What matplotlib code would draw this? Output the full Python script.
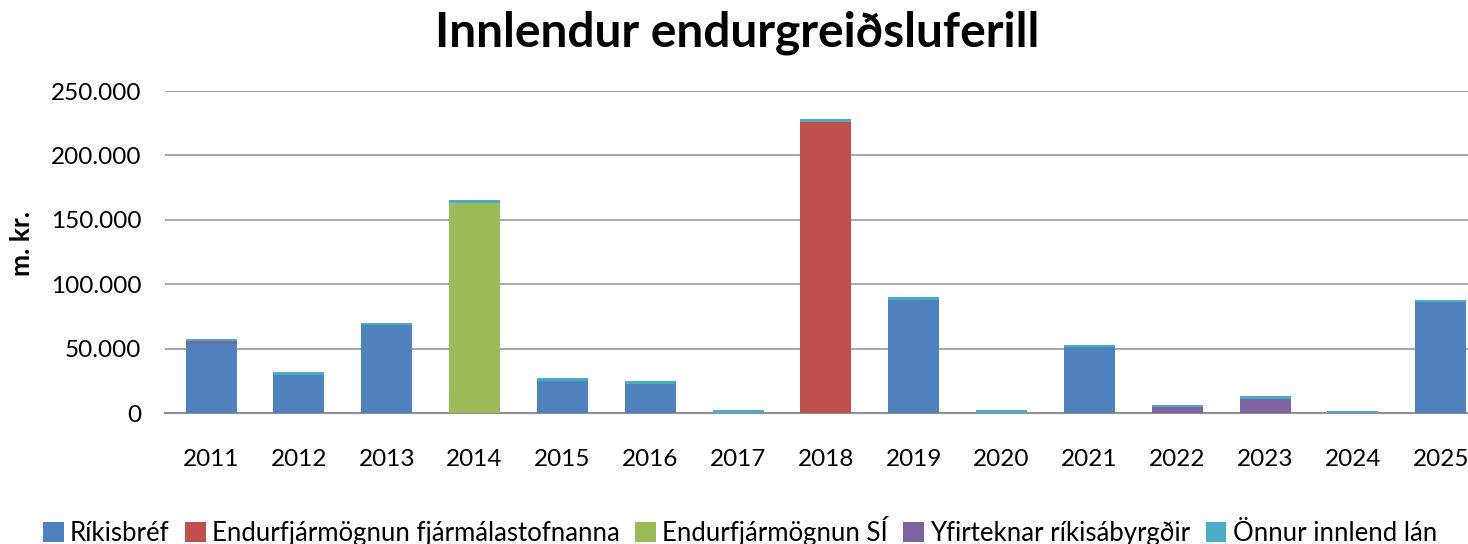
import numpy as np
import matplotlib
matplotlib.use("Agg")
import matplotlib.pyplot as plt
from matplotlib.ticker import FuncFormatter

plt.rcParams['font.family'] = ['Lato', 'DejaVu Sans']

years = ['2011', '2012', '2013', '2014', '2015', '2016', '2017', '2018',
         '2019', '2020', '2021', '2022', '2023', '2024', '2025']

# values in millions ISK (m. kr.)
rikisbref = [53300, 29300, 68000, 0, 24800, 22500, 0, 0,
             87700, 0, 51000, 0, 0, 0, 86000]
endurfj_fjarmal = [0, 0, 0, 0, 0, 0, 0, 226000,
                   0, 0, 0, 0, 0, 0, 0]
endurfj_si = [0, 0, 0, 163000, 0, 0, 0, 0,
              0, 0, 0, 0, 0, 0, 0]
yfirteknar = [2300, 0, 0, 0, 0, 0, 0, 0,
              0, 0, 0, 4600, 10900, 0, 0]
onnur = [1500, 2300, 2000, 2300, 2000, 2000, 2500, 2300,
         2000, 2500, 2000, 1500, 2300, 1500, 2000]

series = [
    ('Ríkisbréf', rikisbref, '#4F81BD'),
    ('Endurfjármögnun fjármálastofnanna', endurfj_fjarmal, '#C0504D'),
    ('Endurfjármögnun SÍ', endurfj_si, '#9BBB59'),
    ('Yfirteknar ríkisábyrgðir', yfirteknar, '#8064A2'),
    ('Önnur innlend lán', onnur, '#4BACC6'),
]

fig = plt.figure(figsize=(14.68, 5.44), dpi=100)
ax = fig.add_axes([165 / 1468, 1 - 413 / 544, 1 - 165 / 1468, 322 / 544])

x = np.arange(len(years))
bottom = np.zeros(len(years))
for name, vals, color in series:
    vals = np.array(vals, dtype=float)
    ax.bar(x, vals, 0.58, bottom=bottom, color=color, label=name, zorder=3)
    bottom += vals

ax.set_ylim(0, 250000)
ax.set_xlim(-0.524, 14.31)
ax.set_yticks(np.arange(0, 250001, 50000))
ax.yaxis.set_major_formatter(FuncFormatter(lambda v, p: f'{int(v):,}'.replace(',', '.')))
ax.set_xticks(x)
ax.set_xticklabels(years)
ax.tick_params(axis='both', length=0, labelsize=17.5)
ax.tick_params(axis='x', pad=26)
ax.tick_params(axis='y', pad=17)

ax.grid(axis='y', color='#A0A0A0', linewidth=1.3, zorder=0)
for s in ['top', 'right', 'left']:
    ax.spines[s].set_visible(False)
ax.spines['bottom'].set_color('#909090')
ax.spines['bottom'].set_linewidth(1.5)

fig.text(22 / 1468, 1 - 243 / 544, 'm. kr.', rotation=90, fontsize=19,
         fontweight='bold', ha='center', va='center')
fig.text(737 / 1468, 1 - 33 / 544, 'Innlendur endurgreiðsluferill',
         fontsize=34.5, fontweight='bold', ha='center', va='center')

fig.legend(loc='center', bbox_to_anchor=(740 / 1468, 1 - 531 / 544), ncol=5,
           frameon=False, fontsize=18.5, handlelength=0.8, handleheight=0.8,
           handletextpad=0.25, columnspacing=0.6)

fig.savefig('out.png', dpi=100)
